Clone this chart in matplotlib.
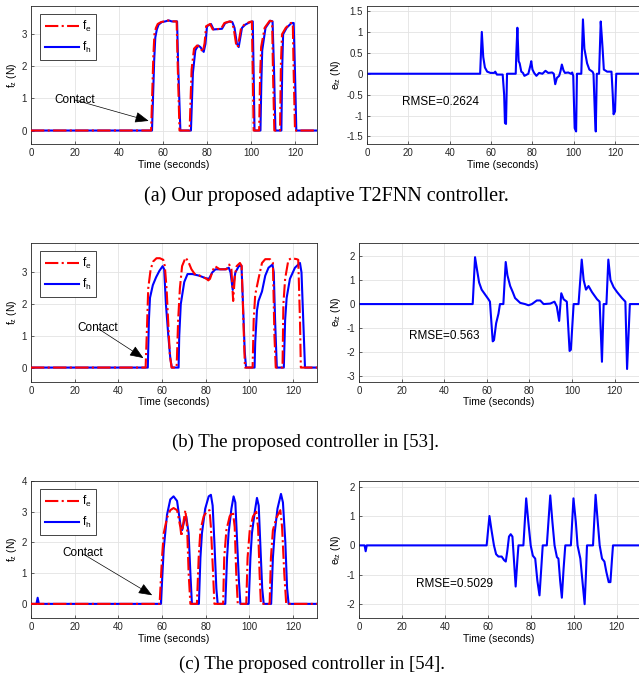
import matplotlib
matplotlib.use("Agg")
import matplotlib.pyplot as plt

plt.rcParams["font.family"] = ["Liberation Sans", "DejaVu Sans"]
plt.rcParams["mathtext.fontset"] = "custom"
plt.rcParams["mathtext.rm"] = "Liberation Sans"
plt.rcParams["mathtext.it"] = "Liberation Sans:italic"

# ---------------- (a) adaptive T2FNN ----------------
a_t_fh = [0, 55.0, 56.0, 56.5, 57.2, 58.0, 59.5, 61.0, 62.6, 64.0, 66.4, 66.9, 67.9,
          72.7, 73.2, 73.6, 74.7, 76.0, 77.0, 78.5, 79.3, 80.0, 81.8, 83.0, 86.8, 88.3,
          90.6, 91.5, 92.5, 93.6, 94.4, 95.9, 97.4, 99.7, 100.8, 101.2, 101.6,
          104.3, 104.7, 105.1, 106.6, 108.8, 109.8, 110.5, 111.1,
          113.8, 114.2, 114.6, 116.2, 118.4, 119.4, 120.0, 120.6, 130]
a_fh = [0, 0, 2.2, 2.9, 3.15, 3.3, 3.38, 3.4, 3.43, 3.4, 3.4, 2.0, 0,
        0, 1.0, 1.8, 2.5, 2.65, 2.6, 2.45, 2.7, 3.25, 3.32, 3.15, 3.17, 3.35,
        3.4, 3.38, 3.2, 2.7, 2.6, 3.2, 3.3, 3.38, 3.4, 1.8, 0,
        0, 1.5, 2.5, 3.2, 3.42, 3.4, 1.8, 0,
        0, 2.0, 3.0, 3.2, 3.35, 3.35, 1.8, 0, 0]
a_t_fe = [0, 54.6, 55.6, 56.1, 56.8, 57.6, 59.1, 60.6, 62.2, 63.6, 66.2, 66.7, 67.5,
          72.1, 72.6, 73.0, 74.1, 75.5, 76.6, 78.1, 78.9, 79.6, 81.4, 82.6, 86.4, 87.9,
          90.2, 91.1, 92.1, 93.2, 94.0, 95.5, 97.0, 99.3, 100.4, 100.8, 101.2,
          103.7, 104.1, 104.6, 106.2, 108.5, 109.6, 110.0, 110.6,
          113.2, 113.6, 114.1, 115.8, 118.1, 119.0, 119.4, 120.0, 130]
a_fe = [0, 0, 2.3, 3.0, 3.2, 3.32, 3.38, 3.4, 3.43, 3.4, 3.4, 2.0, 0,
        0, 1.1, 1.9, 2.55, 2.65, 2.6, 2.45, 2.72, 3.25, 3.32, 3.15, 3.17, 3.35,
        3.4, 3.38, 3.2, 2.7, 2.6, 3.2, 3.3, 3.38, 3.4, 1.8, 0,
        0, 1.6, 2.6, 3.2, 3.42, 3.4, 1.8, 0,
        0, 2.1, 3.0, 3.2, 3.35, 3.35, 1.8, 0, 0]
a_t_e = [0, 54.7, 55.5, 56.2, 57.0, 58.1, 59.7, 61.5, 62.0, 62.8, 65.6, 66.3, 66.7, 67.2, 67.7,
         71.9, 72.2, 72.7, 73.3, 73.8, 74.6, 75.4, 76.1, 76.9, 78.0, 79.0, 79.4, 80.0,
         80.8, 81.9, 83.2, 84.8, 86.3, 87.6, 89.5, 90.3, 91.0, 91.8, 92.9, 93.5, 94.2,
         95.0, 95.7, 97.3, 98.6, 99.2, 99.7, 100.4, 101.1, 101.5,
         103.6, 104.4, 105.1, 106.4, 107.5, 109.0, 109.5, 110.2, 110.6, 111.1,
         112.2, 113.0, 113.5, 113.9, 114.5, 116.1, 118.2, 118.8, 119.2, 119.9, 120.5, 131.5]
a_e = [0, 0, 1.0, 0.4, 0.15, 0.05, 0.02, 0.02, 0.05, -0.02, -0.02, -0.5, -1.18, -1.2, 0,
       0, 0.5, 1.1, 0.3, 0.25, 0.05, 0.02, -0.05, -0.03, 0.0, 0.2, 0.3, 0.1,
       0.02, -0.05, 0.02, 0.0, 0.07, 0.02, 0.03, 0.0, -0.25, -0.1, -0.05, 0.05, 0.22,
       0.08, 0.02, 0.03, 0.0, 0.03, -0.05, -1.3, -1.38, 0,
       0, 1.3, 0.6, 0.25, 0.1, 0.05, 0, -1.0, -1.38, 0,
       0, 1.25, 0.9, 0.6, 0.1, 0.05, 0.05, -0.5, -0.97, -0.9, 0, 0]

# ---------------- (b) controller in [53] ----------------
b_t_fe = [0, 52.5, 53.0, 53.7, 54.8, 56.0, 57.5, 59.0, 60.6, 61.3, 62.1, 62.8, 63.6, 64.4,
          66.7, 67.4, 68.2, 69.2, 70.8, 72.0, 73.5, 75.0, 77.3, 80.4, 81.2, 82.0, 83.5,
          84.2, 86.5, 89.5, 90.8, 91.8, 92.6, 93.4, 94.2, 95.7, 96.5, 97.5, 98.0,
          101.5, 102.0, 102.7, 104.2, 105.8, 107.3, 109.5, 110.8, 111.5, 112.1,
          115.2, 115.6, 116.4, 117.9, 119.4, 121.7, 122.4, 123.2, 123.6, 131]
b_fe = [0, 0, 1.0, 2.5, 3.1, 3.35, 3.45, 3.45, 3.4, 3.2, 2.5, 1.5, 0.4, 0,
        0, 1.5, 2.5, 3.2, 3.47, 3.35, 3.1, 2.95, 2.9, 2.8, 2.75, 2.8, 3.1,
        3.2, 3.1, 3.1, 3.25, 3.1, 2.1, 2.9, 3.2, 3.3, 3.2, 1.0, 0,
        0, 1.5, 2.3, 2.8, 3.3, 3.42, 3.42, 3.3, 1.0, 0,
        0, 2.0, 2.8, 3.4, 3.45, 3.42, 3.4, 1.5, 0, 0]
b_t_fh = [0, 53.5, 54.0, 54.5, 55.8, 57.3, 58.8, 60.3, 61.0, 61.8, 62.9, 63.8, 64.5,
          67.6, 67.9, 68.6, 70.2, 71.7, 73.9, 77.0, 80.0, 81.5, 83.0, 84.5, 89.0,
          90.6, 91.4, 92.4, 93.6, 95.2, 96.4, 97.1, 97.9, 98.5,
          102.4, 102.7, 103.5, 104.2, 105.8, 107.3, 108.8, 110.6, 111.2, 111.8, 112.6,
          115.8, 116.4, 117.1, 118.6, 120.9, 123.2, 123.9, 124.7, 125.5, 131]
b_fh = [0, 0, 1.5, 2.2, 2.6, 2.85, 3.05, 3.2, 3.1, 2.0, 1.0, 0.3, 0,
        0, 1.0, 2.0, 2.7, 2.95, 2.95, 2.9, 2.82, 2.8, 3.0, 3.1, 3.1,
        3.15, 3.0, 2.45, 3.0, 3.2, 3.22, 2.0, 0.5, 0,
        0, 0.8, 1.8, 2.1, 2.4, 2.9, 3.15, 3.25, 3.0, 1.5, 0,
        0, 1.5, 2.2, 2.8, 3.15, 3.3, 3.0, 1.5, 0, 0]
b_t_e = [0, 53.4, 54.5, 55.3, 56.4, 57.6, 59.2, 60.8, 61.5, 62.8, 63.4, 64.4, 65.5, 66.2,
         67.8, 68.9, 69.7, 71.0, 72.2, 73.3, 75.7, 78.0, 79.6, 81.2, 83.5, 85.1, 86.7,
         89.8, 91.8, 92.9, 94.0, 95.0, 96.1, 97.6, 98.9, 99.5, 100.8,
         103.1, 104.6, 105.5, 106.6, 107.8, 109.4, 111.8, 113.0, 114.1, 114.9,
         116.2, 117.1, 118.1, 119.6, 121.2, 123.5, 125.1, 125.9, 127.2, 131.5]
b_e = [0, 0, 1.95, 1.5, 0.9, 0.6, 0.4, 0.2, 0.1, -1.55, -1.5, -0.8, -0.4, 0.0,
       0.0, 1.75, 1.2, 0.75, 0.5, 0.25, 0.05, 0.0, -0.05, 0.0, 0.15, 0.15, 0.0,
       0.02, 0.1, -0.1, -0.7, 0.45, 0.2, 0.1, -1.95, -1.9, 0.0,
       0.0, 1.85, 1.0, 0.6, 0.75, 0.5, 0.2, 0.1, -2.4, 0.0,
       0.0, 1.85, 1.0, 0.7, 0.5, 0.25, 0.1, -2.7, 0.0, 0]

# ---------------- (c) controller in [54] ----------------
c_t_fe = [0, 58.9, 60.0, 60.8, 62.3, 63.8, 65.3, 66.9, 68.4, 68.9, 69.9, 70.7, 71.5, 72.2, 73.0,
          76.0, 76.8, 77.6, 79.1, 80.6, 81.8, 82.4, 83.4, 84.0,
          88.0, 88.5, 89.5, 91.0, 92.5, 93.3, 94.0, 94.7,
          98.6, 99.2, 100.2, 101.7, 103.2, 104.0, 104.7, 105.3,
          109.3, 109.9, 110.8, 112.4, 114.2, 115.0, 116.0, 116.9, 131]
c_fe = [0, 0, 1.5, 2.3, 2.8, 3.05, 3.12, 3.05, 2.5, 2.2, 2.7, 3.05, 2.5, 1.0, 0,
        0, 1.5, 2.4, 2.85, 3.02, 3.05, 2.5, 1.0, 0,
        0, 1.5, 2.4, 2.85, 3.0, 2.5, 1.0, 0,
        0, 1.5, 2.4, 2.85, 3.0, 2.5, 1.0, 0,
        0, 1.5, 2.4, 2.8, 3.05, 2.5, 1.0, 0, 0]
c_t_fh = [0, 2.5, 3.05, 3.6,
          59.5, 60.8, 62.3, 63.8, 65.3, 66.9, 68.4, 69.2, 70.2, 71.1, 72.2, 73.0, 73.7,
          76.9, 77.6, 78.3, 79.8, 81.4, 82.4, 83.2, 84.0, 84.9, 85.5,
          89.0, 89.8, 90.5, 91.8, 92.8, 93.6, 94.3, 95.2, 95.9,
          99.7, 100.5, 101.2, 102.5, 103.5, 104.3, 105.0, 105.9, 106.6,
          110.0, 110.8, 111.6, 112.9, 114.5, 115.4, 116.5, 117.3, 118.0, 131]
c_fh = [0, 0, 0.2, 0,
        0, 1.8, 2.9, 3.4, 3.5, 3.35, 2.6, 2.4, 2.7, 2.85, 2.3, 1.0, 0,
        0, 1.5, 2.3, 3.1, 3.5, 3.55, 3.2, 2.0, 0.5, 0,
        0, 1.5, 2.3, 3.1, 3.5, 3.3, 2.2, 0.8, 0,
        0, 1.5, 2.3, 3.0, 3.45, 3.2, 2.0, 0.5, 0,
        0, 1.5, 2.3, 3.1, 3.58, 3.3, 2.0, 0.5, 0, 0]
c_t_e = [0, 2.6, 3.1, 3.6,
         59.4, 60.7, 61.7, 62.8, 63.8, 64.9, 66.4, 67.5, 68.3, 69.0, 69.8, 70.6, 71.4, 72.2,
         72.9, 73.7, 74.2,
         76.5, 77.8, 78.8, 79.9, 80.9, 82.0, 83.0, 84.0, 84.8, 85.5,
         87.4, 89.0, 90.0, 91.0, 92.1, 92.8, 93.6, 94.4, 95.2, 96.0,
         98.6, 99.8, 100.9, 101.7, 103.0, 103.7, 105.0, 105.6, 106.1,
         108.9, 110.1, 111.1, 112.0, 113.1, 114.2, 115.1, 116.2, 117.0, 117.7, 118.2, 131]
c_e = [0, 0, -0.2, 0,
       0, 1.0, 0.5, 0.0, -0.3, -0.38, -0.38, -0.5, -0.55, -0.2, 0.3, 0.38, 0.3, -0.6,
       -1.4, -0.5, 0.0,
       0.0, 1.6, 0.8, 0.0, -0.35, -0.45, -1.2, -1.7, -0.8, 0.0,
       0.0, 1.7, 0.8, 0.0, -0.4, -0.45, -1.2, -1.78, -0.8, 0.0,
       0.0, 1.6, 0.8, 0.0, -0.45, -1.0, -2.0, -1.0, 0.0,
       0.0, 1.72, 0.8, 0.0, -0.45, -0.55, -0.9, -1.25, -1.25, -0.5, 0.0, 0]

captions = ["(a) Our proposed adaptive T2FNN controller.",
            "(b) The proposed controller in [53].",
            "(c) The proposed controller in [54]."]
rmse_text = ["RMSE=0.2624", "RMSE=0.563", "RMSE=0.5029"]

W, H = 639, 685
fig = plt.figure(figsize=(W / 100, H / 100), dpi=100)


def box(x0, y0, x1, y1):
    return [x0 / W, 1 - y1 / H, (x1 - x0) / W, (y1 - y0) / H]


def style(ax):
    ax.grid(True, color="#e3e3e3", lw=0.6)
    ax.set_axisbelow(True)
    ax.tick_params(direction="in", length=2.5, width=0.5, labelsize=7, colors="#262626",
                   pad=3)
    for s in ax.spines.values():
        s.set_color("#262626")
        s.set_linewidth(0.6)
    ax.set_xticks(range(0, 121, 20))


rows = [
    dict(left=box(31, 6, 317, 144), right=box(367, 6, 639, 144),
         t_fe=a_t_fe, fe=a_fe, t_fh=a_t_fh, fh=a_fh, t_e=a_t_e, e=a_e,
         lxlim=130, lylim=(-0.42, 3.88), lyt=[0, 1, 2, 3],
         rxlim=131.5, rylim=(-1.68, 1.62), ryt=[-1.5, -1, -0.5, 0, 0.5, 1, 1.5],
         ctext=(20, 0.95), cxy=(53.5, 0.3), ctail=(30, 0.9), rpos=(35.5, -0.67),
         cap_x=326, cap_y=196, cap_fs=14.5),
    dict(left=box(31, 243, 317, 381.5), right=box(359, 243, 639, 381.5),
         t_fe=b_t_fe, fe=b_fe, t_fh=b_t_fh, fh=b_fh, t_e=b_t_e, e=b_e,
         lxlim=131, lylim=(-0.44, 3.93), lyt=[0, 1, 2, 3],
         rxlim=131.5, rylim=(-3.22, 2.54), ryt=[-3, -2, -1, 0, 1, 2],
         ctext=(30.5, 1.24), cxy=(51.5, 0.3), ctail=(38, 1.05), rpos=(40, -1.34),
         cap_x=306, cap_y=442, cap_fs=13.5),
    dict(left=box(31, 481, 317, 618), right=box(359, 481, 639, 618),
         t_fe=c_t_fe, fe=c_fe, t_fh=c_t_fh, fh=c_fh, t_e=c_t_e, e=c_e,
         lxlim=131, lylim=(-0.46, 4.0), lyt=[0, 1, 2, 3, 4],
         rxlim=130.3, rylim=(-2.47, 2.19), ryt=[-2, -1, 0, 1, 2],
         ctext=(23.5, 1.64), cxy=(55.5, 0.28), ctail=(31, 1.42), rpos=(44.5, -1.31),
         cap_x=312, cap_y=664, cap_fs=13.5),
]

for i, r in enumerate(rows):
    ax1 = fig.add_axes(r["left"])
    ax1.plot(r["t_fe"], r["fe"], color="red", ls="-.", lw=1.5, label=r"f$_\mathregular{e}$",
             zorder=3)
    ax1.plot(r["t_fh"], r["fh"], color="blue", ls="-", lw=1.5, label=r"f$_\mathregular{h}$",
             zorder=2)
    ax1.set_xlim(0, r["lxlim"])
    ax1.set_ylim(*r["lylim"])
    ax1.set_yticks(r["lyt"])
    style(ax1)
    ax1.set_xlabel("Time (seconds)", fontsize=7.5, labelpad=1)
    ax1.set_ylabel(r"f$_\mathregular{z}$ (N)", fontsize=7.5, labelpad=2)
    leg = ax1.legend(loc="upper left", bbox_to_anchor=(0.031, 0.942), borderaxespad=0,
                     fontsize=8.5, fancybox=False, framealpha=1, edgecolor="#262626",
                     handlelength=2.9, handletextpad=0.25, labelspacing=0.55,
                     borderpad=0.4)
    leg.get_frame().set_linewidth(0.6)
    ax1.annotate("Contact", xy=r["cxy"], xytext=r["ctext"], fontsize=8.5, ha="center",
                 va="center",
                 arrowprops=dict(arrowstyle="-|>,head_length=1.0,head_width=0.4",
                                 color="black", lw=0.5, shrinkA=0, shrinkB=0,
                                 patchA=None),
                 textcoords="data")

    ax2 = fig.add_axes(r["right"])
    ax2.plot(r["t_e"], r["e"], color="blue", lw=1.5)
    ax2.set_xlim(0, r["rxlim"])
    ax2.set_ylim(*r["rylim"])
    ax2.set_yticks(r["ryt"])
    ax2.set_yticklabels([("%g" % v) for v in r["ryt"]])
    style(ax2)
    ax2.set_xlabel("Time (seconds)", fontsize=7.5, labelpad=1)
    ax2.set_ylabel(r"e$_\mathregular{fz}$ (N)", fontsize=7.5, labelpad=2)
    ax2.text(r["rpos"][0], r["rpos"][1], rmse_text[i], fontsize=8.5, ha="center",
             va="center")

    fig.text(r["cap_x"] / W, 1 - r["cap_y"] / H, captions[i], ha="center", va="center",
             fontsize=r["cap_fs"], family="Liberation Serif")

fig.savefig("out.png", dpi=100)
